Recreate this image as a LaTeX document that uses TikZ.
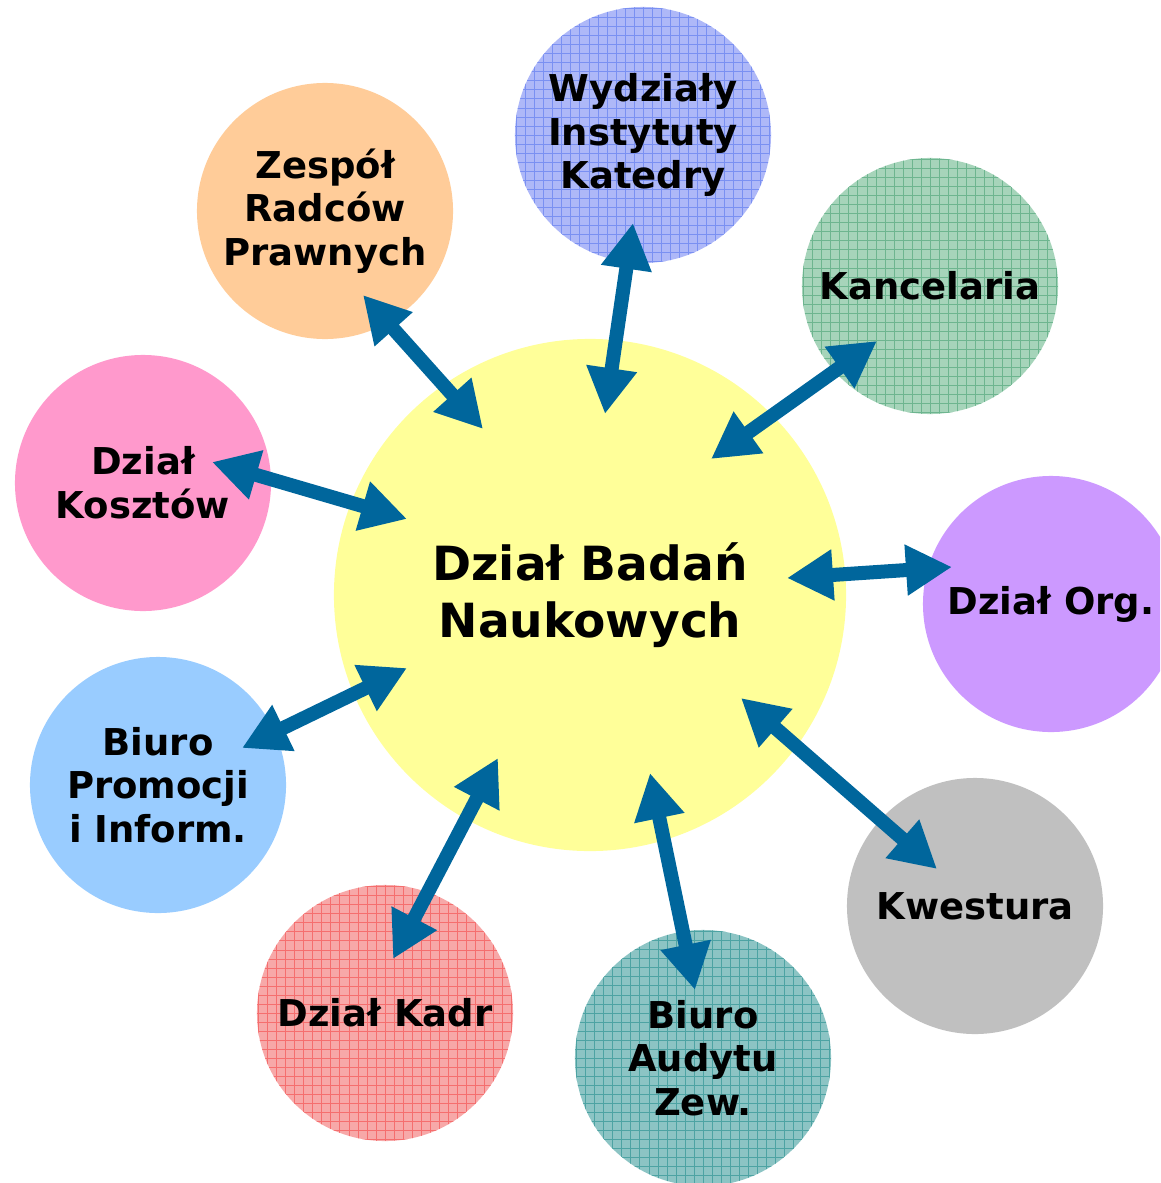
\documentclass[tikz,border=0pt]{standalone}
\usepackage{fontspec}
\setmainfont{DejaVu Sans}
\usetikzlibrary{arrows.meta}

\definecolor{arrowblue}{HTML}{00669C}
\definecolor{cenyellow}{HTML}{FFFF99}
\definecolor{zespeach}{HTML}{FFCC99}
\definecolor{wydblue}{HTML}{AEB8F8}
\definecolor{wydline}{HTML}{7A90F2}
\definecolor{kangreen}{HTML}{A6D4BA}
\definecolor{kanline}{HTML}{6DB58F}
\definecolor{orgviolet}{HTML}{CC99FF}
\definecolor{kwegrey}{HTML}{C0C0C0}
\definecolor{audteal}{HTML}{8CC4C4}
\definecolor{audline}{HTML}{4DA3A3}
\definecolor{kadred}{HTML}{F7A8A8}
\definecolor{kadline}{HTML}{F56E6E}
\definecolor{problue}{HTML}{99CCFF}
\definecolor{kospink}{HTML}{FF99CC}

\tikzset{
	unit/.style={circle, minimum size=6.4cm, inner sep=0pt, align=center,
			font=\bfseries\fontsize{26.3}{31}\selectfont},
	hatch/.style={path picture={
					\foreach \k in {-15,...,15}{
							\draw[#1, line width=0.7pt]
							([xshift=\k*0.225cm]path picture bounding box.north) -- ([xshift=\k*0.225cm]path picture bounding box.south)
							([yshift=\k*0.225cm]path picture bounding box.west) -- ([yshift=\k*0.225cm]path picture bounding box.east);
						}
				}},
	link/.style={{Triangle[length=1.15cm,width=1.2cm]}-{Triangle[length=1.15cm,width=1.2cm]},
			line width=0.35cm, arrowblue},
}

\begin{document}
\begin{tikzpicture}[x=0.025cm, y=-0.025cm]
	\clip (0,0) rectangle (1160,1183);
	% central unit
	\node[unit, fill=cenyellow, minimum size=12.8cm, font=\bfseries\fontsize{33.5}{41}\selectfont] (cen) at (590,595) {Dział Badań\\Naukowych};
	% surrounding units
	\node[unit, fill=zespeach] (zes) at (325,211) {Zespół\\Radców\\Prawnych};
	\node[unit, fill=wydblue, hatch=wydline] (wyd) at (643,135) {Wydziały\\Instytuty\\Katedry};
	\node[unit, fill=kangreen, hatch=kanline] (kan) at (930,286) {Kancelaria};
	\node[unit, fill=orgviolet] (org) at (1051,604) {Dział Org.};
	\node[unit, fill=kwegrey] (kwe) at (975,906) {Kwestura};
	\node[unit, fill=audteal, hatch=audline] (aud) at (703,1058) {Biuro\\Audytu\\Zew.};
	\node[unit, fill=kadred, hatch=kadline] (kad) at (385,1013) {Dział Kadr};
	\node[unit, fill=problue] (pro) at (158,785) {Biuro\\Promocji\\i Inform.};
	\node[unit, fill=kospink] (kos) at (143,483) {Dział\\Kosztów};
	% links
	\draw[link] ([shift={(38,84)}]zes.center) -- ([shift={(-107,-166)}]cen.center);
	\draw[link] ([shift={(-10,88)}]wyd.center) -- ([shift={(15,-181)}]cen.center);
	\draw[link] ([shift={(-53,55)}]kan.center) -- ([shift={(121,-136)}]cen.center);
	\draw[link] ([shift={(-99,-37)}]org.center) -- ([shift={(197,-17)}]cen.center);
	\draw[link] ([shift={(-38,-37)}]kwe.center) -- ([shift={(151,103)}]cen.center);
	\draw[link] ([shift={(-8,-68)}]aud.center) -- ([shift={(60,178)}]cen.center);
	\draw[link] ([shift={(8,-54)}]kad.center) -- ([shift={(-92,163)}]cen.center);
	\draw[link] ([shift={(84,-37)}]pro.center) -- ([shift={(-183,73)}]cen.center);
	\draw[link] ([shift={(69,-21)}]kos.center) -- ([shift={(-183,-76)}]cen.center);
\end{tikzpicture}
\end{document}
